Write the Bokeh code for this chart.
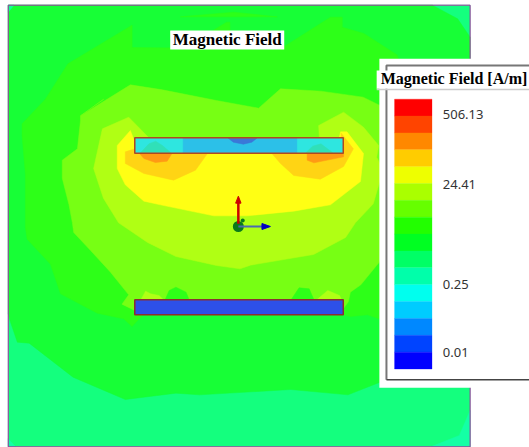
from bokeh.plotting import figure
from bokeh.embed import file_html
from bokeh.resources import INLINE
from bokeh.core.properties import value

TITLE = "Magnetic Field"
LEGEND_TITLE = "Magnetic Field [A/m]"
TICK_LABELS = ["506.13", "24.41", "0.25", "0.01"]
TICK_BANDS = [0.93, 5.08, 11.0, 15.0]
BAND_COLORS = ["#ff0000", "#ff4400", "#ff8800", "#ffcc00", "#eeff00", "#aaff00", "#66ff00", "#22ff00",
               "#00ff22", "#00ff66", "#00ffaa", "#00ffee", "#00ccff", "#0088ff", "#0044ff", "#0000ff"]

FRAME_X = [23, 1392, 1392, 23]
FRAME_Y = [14, 14, 1339, 1339]

SPRING = "#14ff7e"
GREEN = "#17ff36"
LIME0 = "#2dff18"
LIME1 = "#77ff14"
LIME2 = "#b0ff14"
YELLOW = "#ffff14"
GOLD = "#ffd414"
ORANGE = "#ff9a14"

level1_x = [23, 1280, 1355, 1392, 1392, 1125, 1030, 860, 590, 520, 370, 215, 85, 50, 28, 23]
level1_y = [14, 14, 55, 110, 1000, 1145, 1183, 1167, 1183, 1178, 1197, 1130, 1028, 1025, 960, 940]

level2_x = [74, 79, 148, 178, 287, 365, 390, 420, 1016, 1037, 1088, 1122, 1230, 1230, 1175, 1077, 1013, 1013, 978, 840,
            680, 680, 670, 630, 590, 390, 390, 200, 133, 64, 64, 74]
level2_y = [682, 716, 791, 880, 938, 955, 978, 945, 943, 948, 943, 955, 900, 300, 163, 99, 80, 50, 50, 139,
            143, 65, 65, 90, 143, 141, 74, 190, 296, 370, 405, 524]
sliver_x = [533, 691, 820]
sliver_y = [49, 35, 49]

level3_x = [237, 385, 480, 640, 765, 830, 950, 1075, 1125, 1230, 1122, 1068, 1037, 1031, 1016, 398, 360, 380, 326, 267,
            217, 213, 203, 183, 183, 228, 237, 237, 306]
level3_y = [346, 253, 268, 300, 323, 265, 272, 290, 315, 500, 786, 853, 875, 904, 925, 930, 911, 883, 815, 750,
            696, 667, 613, 533, 479, 445, 361, 346, 296]

level4_x = [302, 380, 440, 945, 943, 1017, 1076, 1121, 1115, 1125, 1125, 1105, 1052, 1023, 928, 741, 710, 640, 520, 436,
            350, 305, 276]
level4_y = [385, 350, 412, 412, 375, 335, 380, 435, 470, 490, 540, 610, 667, 711, 762, 794, 805, 795, 768, 726,
            667, 593, 504]

level5_x = [385, 346, 346, 370, 425, 474, 632, 731, 869, 978, 1067, 1076, 1027, 1008, 1000, 400]
level5_y = [390, 435, 504, 553, 602, 613, 646, 646, 632, 613, 543, 459, 394, 394, 430, 430]

gold_left_x = [398, 370, 370, 425, 513, 578, 617, 617]
gold_left_y = [445, 454, 489, 519, 539, 509, 454, 430]
gold_right_x = [800, 830, 869, 948, 1017, 1046, 1010, 1010]
gold_right_y = [454, 489, 525, 536, 498, 445, 398, 430]

orange_left_x = [405, 425, 459, 494, 513, 513, 405]
orange_left_y = [451, 474, 486, 482, 451, 440, 440]
orange_right_x = [909, 909, 929, 1017, 1017, 1017, 909]
orange_right_y = [451, 479, 487, 469, 451, 440, 440]

blob_left_x = [487, 500, 520, 550, 560]
blob_left_y = [900, 870, 860, 875, 900]
blob_right_x = [860, 885, 915, 930]
blob_right_y = [900, 862, 865, 900]
spot_left_x = [415, 430, 445, 470, 485, 440]
spot_left_y = [900, 872, 880, 885, 900, 900]
spot_right_x = [935, 970, 1005, 1012]
spot_right_y = [900, 870, 885, 900]

corner_br_x = [1275, 1360, 1392, 1392]
corner_br_y = [1339, 1305, 1230, 1339]
corner_bl_x = [23, 23, 45]
corner_bl_y = [1315, 1339, 1339]
corner_tl_x = [23, 40, 23]
corner_tl_y = [14, 14, 35]

bar_top_end_x = [398, 540, 540, 398]
bar_top_end2_x = [880, 1016, 1016, 880]
bar_top_x = [398, 1016, 1016, 398]
bar_top_y = [412, 412, 458, 458]
bar_cap_x = [675, 690, 720, 745, 760]
bar_cap_y = [413, 425, 431, 425, 413]
bar_teal_left_x = [415, 440, 460, 480, 505]
bar_teal_left_y = [457, 430, 422, 435, 457]
bar_teal_right_x = [905, 925, 950, 985]
bar_teal_right_y = [457, 437, 430, 457]
bar_bottom_x = [398, 1016, 1016, 398]
bar_bottom_y = [898, 898, 943, 943]

shaft_z_x = [705, 705]
shaft_z_y = [670, 600]
head_z_x = [697, 705, 713]
head_z_y = [608, 587, 608]
shaft_x_x = [705, 775]
shaft_x_y = [678, 678]
head_x_x = [775, 800, 775]
head_x_y = [669, 678, 687]
origin_x = [705]
origin_y = [678]
bump_x = [718]
bump_y = [660]

p = figure(width=529, height=447, output_backend="svg", toolbar_location=None,
           x_range=(0, 1568), y_range=(1341, 0), min_border=0,
           styles={"position": "absolute", "left": "0px", "top": "0px"})
p.axis.visible = False
p.grid.visible = False
p.outline_line_color = None
p.background_fill_color = "#ffffff"


def poly(x, y, color):
    p.patch(x, y, fill_color=color, line_color=color, line_width=0.5)


poly(FRAME_X, FRAME_Y, SPRING)
poly(corner_br_x, corner_br_y, "#14ffa5")
poly(corner_bl_x, corner_bl_y, "#14ffa5")
poly(level1_x, level1_y, GREEN)
poly(corner_tl_x, corner_tl_y, "#14ff90")
poly(level2_x, level2_y, LIME0)
poly(sliver_x, sliver_y, LIME0)
poly(level3_x, level3_y, LIME1)
poly(blob_left_x, blob_left_y, LIME0)
poly(blob_right_x, blob_right_y, LIME0)
poly(spot_left_x, spot_left_y, LIME2)
poly(spot_right_x, spot_right_y, LIME2)
poly(level4_x, level4_y, LIME2)
poly(level5_x, level5_y, YELLOW)
poly(gold_left_x, gold_left_y, GOLD)
poly(gold_right_x, gold_right_y, GOLD)
poly(orange_left_x, orange_left_y, ORANGE)
poly(orange_right_x, orange_right_y, ORANGE)

poly(bar_top_x, bar_top_y, "#2cc0e8")
poly(bar_top_end_x, bar_top_y, "#2ee6e0")
poly(bar_top_end2_x, bar_top_y, "#2ee6e0")
poly(bar_teal_left_x, bar_teal_left_y, "#30e0b8")
poly(bar_teal_right_x, bar_teal_right_y, "#30e0b8")
poly(bar_cap_x, bar_cap_y, "#3a78d8")
p.patch(bar_top_x, bar_top_y, fill_color=None, line_color="#b04820", line_width=1.5)
p.patch(bar_bottom_x, bar_bottom_y, fill_color="#2d50e8", line_color="#8a3030", line_width=1.5)

p.scatter(origin_x, origin_y, size=11, fill_color="#0a7a1a", line_color=None)
p.scatter(bump_x, bump_y, size=4, fill_color="#0a7a1a", line_color=None)
p.line(shaft_x_x, shaft_x_y, line_color="#4a6ab0", line_width=2)
p.patch(head_x_x, head_x_y, fill_color="#0000c0", line_color="#0000c0")
p.line(shaft_z_x, shaft_z_y, line_color="#cc0000", line_width=2.5)
p.patch(head_z_x, head_z_y, fill_color="#cc0000", line_color="#cc0000")

p.patch(FRAME_X, FRAME_Y, fill_color=None, line_color="#a030a0", line_width=1)

# title tag
p.quad(left=[503], right=[841], top=[90], bottom=[147], fill_color="#ffffff", line_color=None)
p.text([672], [118], text=[TITLE], text_align="center", text_baseline="middle", text_color="#000000",
       text_font=value("Liberation Serif"), text_font_size="17px", text_font_style="bold")

# legend panel
p.quad(left=[1123], right=[1568], top=[175], bottom=[1162], fill_color="#ffffff", line_color=None)
p.line([1568, 1144, 1144], [195, 195, 1138], line_color="#777777", line_width=2)
p.line([1144, 1568], [1138, 1138], line_color="#444444", line_width=1.5)
p.quad(left=[1115], right=[1568], top=[210], bottom=[265], fill_color="#ffffff", line_color=None)
p.line([1115, 1568], [267, 267], line_color="#cccccc", line_width=1.5)
p.text([1127], [234], text=[LEGEND_TITLE], text_align="left", text_baseline="middle", text_color="#000000",
       text_font=value("Liberation Serif"), text_font_size="16px", text_font_style="bold")

SW_TOP, SW_H = 296, 50.6
tops = [SW_TOP + i * SW_H for i in range(len(BAND_COLORS))]
bots = [t + SW_H for t in tops]
p.quad(left=[1168] * len(tops), right=[1279] * len(tops), top=tops, bottom=bots,
       fill_color=BAND_COLORS, line_color=BAND_COLORS, line_width=0.3)
p.text([1311] * 4, [SW_TOP + b * SW_H for b in TICK_BANDS], text=TICK_LABELS, text_align="left",
       text_baseline="middle", text_color="#333333", text_font=value("Noto Sans"), text_font_size="13px")

open("out.html", "w").write(file_html(p, INLINE))
